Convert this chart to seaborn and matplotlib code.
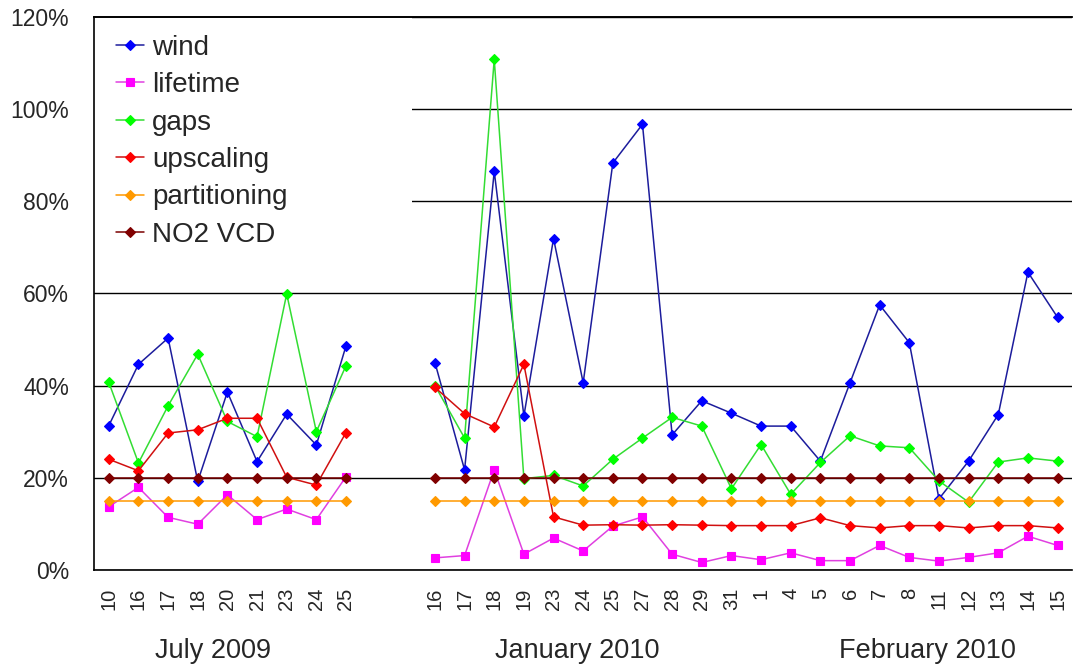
import seaborn as sns
import numpy as np
import pandas as pd
import matplotlib
matplotlib.use("Agg")
import matplotlib.pyplot as plt
import matplotlib.transforms as mtransforms

# categories (two empty slots between July and January)
july_days = ["10", "16", "17", "18", "20", "21", "23", "24", "25"]
jan_days = ["16", "17", "18", "19", "23", "24", "25", "27", "28", "29", "31"]
feb_days = ["1", "4", "5", "6", "7", "8", "11", "12", "13", "14", "15"]
gap_slots = ["", ""]
month_names = ["July 2009", "January 2010", "February 2010"]

# relative uncertainty in %, July / January / February
wind_jul = [31.3, 44.6, 50.3, 19.2, 38.6, 23.5, 33.8, 27.1, 48.6]
wind_jan = [45.0, 21.7, 86.5, 33.4, 71.9, 40.6, 88.3, 96.7, 29.3, 36.7, 34.0]
wind_feb = [31.2, 31.2, 23.6, 40.6, 57.5, 49.3, 15.4, 23.6, 33.7, 64.6, 54.8]

lifetime_jul = [13.7, 17.9, 11.4, 9.9, 16.3, 10.9, 13.2, 10.9, 20.2]
lifetime_jan = [2.6, 3.1, 21.7, 3.4, 6.9, 4.1, 9.5, 11.5, 3.4, 1.6, 3.1]
lifetime_feb = [2.2, 3.7, 2.0, 2.0, 5.3, 2.7, 1.9, 2.7, 3.7, 7.3, 5.3]

gaps_jul = [40.7, 23.2, 35.6, 46.8, 32.2, 28.9, 59.9, 30.0, 44.3]
gaps_jan = [40.0, 28.6, 110.8, 19.8, 20.5, 18.2, 24.0, 28.6, 33.1, 31.2, 17.6]
gaps_feb = [27.2, 16.4, 23.3, 29.1, 26.9, 26.5, 19.3, 14.7, 23.4, 24.3, 23.6]

upscaling_jul = [24.0, 21.5, 29.7, 30.4, 32.9, 32.9, 20.1, 18.4, 29.8]
upscaling_jan = [39.6, 33.9, 31.0, 44.6, 11.5, 9.7, 9.8, 9.7, 9.8, 9.7, 9.6]
upscaling_feb = [9.6, 9.6, 11.3, 9.6, 9.1, 9.6, 9.6, 9.1, 9.6, 9.6, 9.1]

partitioning_jul = [15] * 9
partitioning_jan = [15] * 11
partitioning_feb = [15] * 11

no2_jul = [20] * 9
no2_jan = [20] * 11
no2_feb = [20] * 11

series = {
    "wind": (wind_jul, wind_jan, wind_feb),
    "lifetime": (lifetime_jul, lifetime_jan, lifetime_feb),
    "gaps": (gaps_jul, gaps_jan, gaps_feb),
    "upscaling": (upscaling_jul, upscaling_jan, upscaling_feb),
    "partitioning": (partitioning_jul, partitioning_jan, partitioning_feb),
    "NO2 VCD": (no2_jul, no2_jan, no2_feb),
}

# style: line colour, marker colour, marker, marker size
styles = {
    "wind": ("#1c1c9c", "#0000ff", "D", 5.5),
    "lifetime": ("#e040e0", "#ff00ff", "s", 5.5),
    "gaps": ("#33dd33", "#00ff00", "D", 5.5),
    "upscaling": ("#d01010", "#ff0000", "D", 5.5),
    "partitioning": ("#ff9900", "#ff9900", "D", 5.5),
    "NO2 VCD": ("#7a0000", "#800000", "D", 5.5),
}

categories = july_days + gap_slots + jan_days + feb_days
pos_jul = list(range(0, len(july_days)))
start_jan = len(july_days) + len(gap_slots)
pos_jan = list(range(start_jan, start_jan + len(jan_days)))
pos_feb = list(range(pos_jan[-1] + 1, pos_jan[-1] + 1 + len(feb_days)))

rows = []
for name, (vj, va, vf) in series.items():
    for p, v in zip(pos_jul, vj):
        rows.append((name, p, v, "july"))
    for p, v in zip(pos_jan + pos_feb, va + vf):
        rows.append((name, p, v, "winter"))
df = pd.DataFrame(rows, columns=["series", "pos", "value", "segment"])

sns.set_style("white")
plt.rcParams["font.family"] = ["Liberation Sans", "DejaVu Sans"]

fig = plt.figure(figsize=(10.74, 6.72), dpi=100)
ax = fig.add_axes([0.0875, 0.152, 0.911, 0.8228])

for name in series:
    lc, mc, mk, ms = styles[name]
    sub = df[df["series"] == name]
    sns.lineplot(data=sub, x="pos", y="value", units="segment", estimator=None,
                 color=lc, marker=mk, markersize=ms, markerfacecolor=mc,
                 markeredgecolor=mc, markeredgewidth=0.8, linewidth=1.1,
                 label=name, ax=ax, legend=False, zorder=3)

ax.set_xlim(-0.5, len(categories) - 0.5)
ax.set_ylim(0, 120)

# gridlines
ax.set_yticks(np.arange(0, 121, 20))
ax.set_yticklabels([f"{v}%" for v in range(0, 121, 20)], fontsize=16.5)
ax.grid(axis="y", color="black", linewidth=1.0)
ax.grid(axis="x", visible=False)
ax.set_axisbelow(True)
# top border line stays above the legend box
ax.axhline(120, color="black", linewidth=1.2, zorder=7, clip_on=False)

# x ticks between categories, labels at centres
ax.set_xticks(np.arange(-0.5, len(categories), 1.0))
ax.set_xticklabels([])
ax.set_xticks(np.arange(len(categories)), minor=True)
ax.set_xticklabels(categories, minor=True, rotation=90, fontsize=14.5)
ax.tick_params(axis="x", which="major", direction="out", length=7, width=1, color="black")
ax.tick_params(axis="x", which="minor", length=0, pad=13)
ax.tick_params(axis="y", direction="out", length=7, width=1, color="black", pad=11)
ax.set_xlabel("")
ax.set_ylabel("")

for s in ["left", "bottom", "top"]:
    ax.spines[s].set_color("black")
    ax.spines[s].set_linewidth(1.2)
    ax.spines[s].set_zorder(6)
ax.spines["right"].set_visible(False)

# month labels
month_pos = [3.5, 15.8, 27.6]
trans = mtransforms.blended_transform_factory(ax.transData, fig.transFigure)
for mp, mn in zip(month_pos, month_names):
    ax.text(mp, 0.031, mn, transform=trans, ha="center", va="center", fontsize=19.5)

# legend (dedupe the per-segment entries)
handles, labels = ax.get_legend_handles_labels()
seen = {}
for h, l in zip(handles, labels):
    if l not in seen:
        seen[l] = h
leg = ax.legend(list(seen.values()), list(seen.keys()), loc="upper left",
                bbox_to_anchor=(0.0, 1.008, 0.325, 0.0), mode="expand",
                borderaxespad=0.0, borderpad=0.8, frameon=True, fancybox=False,
                fontsize=20, labelspacing=0.41, handlelength=1.0,
                handletextpad=0.3)
leg.get_frame().set_facecolor("white")
leg.get_frame().set_edgecolor("none")
leg.get_frame().set_alpha(1.0)
leg.set_zorder(2.8)

fig.savefig("out.png", dpi=100)
